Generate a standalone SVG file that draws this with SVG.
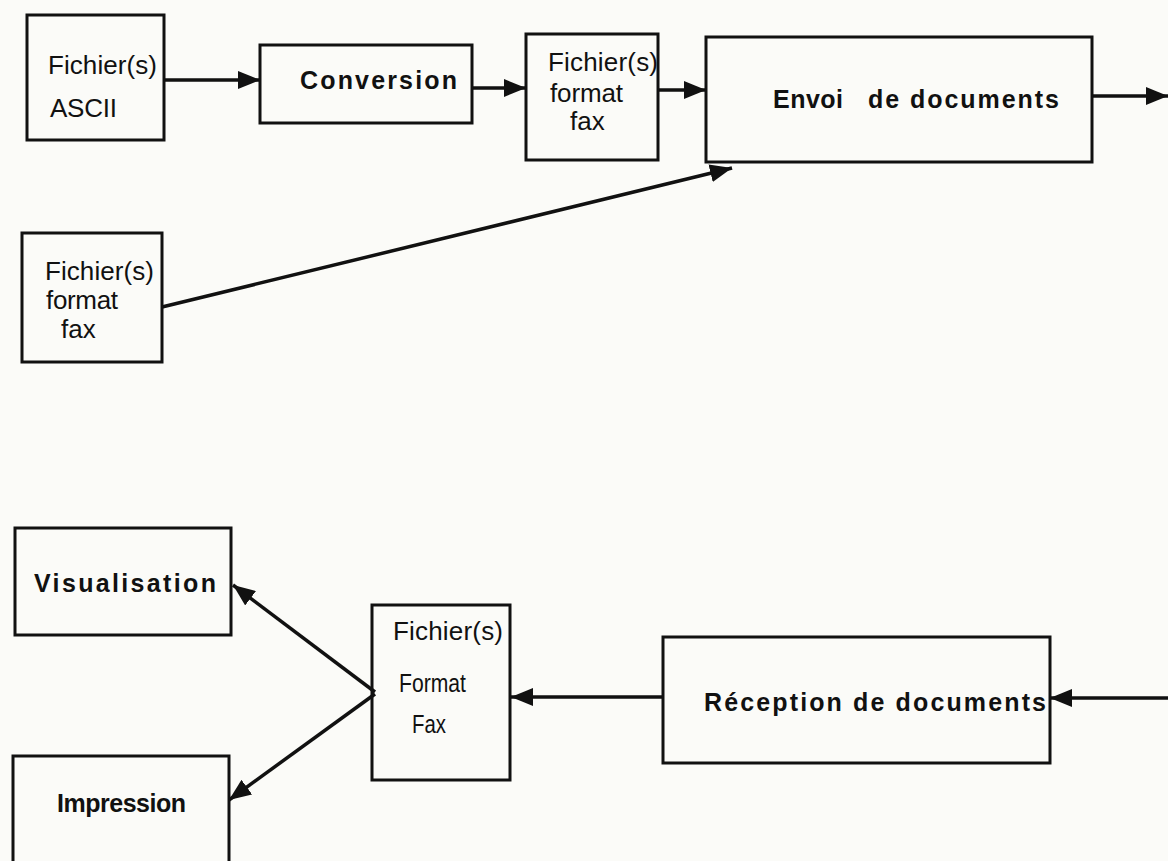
<svg xmlns="http://www.w3.org/2000/svg" width="1168" height="861" viewBox="0 0 1168 861">
<style>
.box{fill:none;stroke:#111;stroke-width:3}
.t{font-family:"Liberation Sans",Arial,sans-serif;fill:#111;font-size:26px}
.b{font-family:"Liberation Sans",Arial,sans-serif;fill:#111;font-weight:bold;font-size:25px}
.c{stroke:#111;stroke-width:3.5;fill:none;marker-end:url(#ah)}
</style>
<defs>
<marker id="ah" markerUnits="userSpaceOnUse" markerWidth="22" markerHeight="18" refX="22" refY="9" orient="auto">
<path d="M0,0 L22,9 L0,18 z" fill="#111"/>
</marker>
</defs>
<rect width="1168" height="861" fill="#fbfbf8"/>
<g id="connectors">
<line class="c" x1="164" y1="80" x2="260" y2="80"/>
<line class="c" x1="472" y1="88" x2="526" y2="88"/>
<line class="c" x1="658" y1="90" x2="706" y2="90"/>
<line class="c" x1="1092" y1="96" x2="1168" y2="96"/>
<line class="c" x1="162" y1="307" x2="732" y2="168"/>
<line class="c" x1="1168" y1="698" x2="1050" y2="698"/>
<line class="c" x1="663" y1="697" x2="511" y2="697"/>
<line class="c" x1="375" y1="692" x2="233" y2="585"/>
<line class="c" x1="375" y1="694" x2="229" y2="800"/>
</g>
<g id="ascii">
<rect class="box" x="27" y="15" width="137" height="125"/>
<text class="t" x="48" y="74" textLength="109">Fichier(s)</text>
<text class="t" x="50" y="117" textLength="67">ASCII</text>
</g>
<g id="conversion">
<rect class="box" x="260" y="45" width="212" height="78"/>
<text class="b" x="300" y="89" textLength="157">Conversion</text>
</g>
<g id="fax1">
<rect class="box" x="526" y="34" width="132" height="126"/>
<text class="t" x="548" y="71" font-size="25" textLength="110">Fichier(s)</text>
<text class="t" x="550" y="102" font-size="25" textLength="73">format</text>
<text class="t" x="570" y="130" font-size="25">fax</text>
</g>
<g id="envoi">
<rect class="box" x="706" y="37" width="386" height="125"/>
<text class="b" x="773" y="108" textLength="70">Envoi</text>
<text class="b" x="868" y="108" textLength="191">de documents</text>
</g>
<g id="fax2">
<rect class="box" x="22" y="233" width="140" height="129"/>
<text class="t" x="45" y="280" font-size="25" textLength="109">Fichier(s)</text>
<text class="t" x="46" y="309" font-size="25" textLength="72">format</text>
<text class="t" x="61" y="338" font-size="25">fax</text>
</g>
<g id="visualisation">
<rect class="box" x="15" y="528" width="216" height="107"/>
<text class="b" x="34" y="592" textLength="182">Visualisation</text>
</g>
<g id="impression">
<rect class="box" x="13" y="756" width="216" height="120"/>
<text class="b" x="57" y="812" font-size="22" textLength="129">Impression</text>
</g>
<g id="fax3">
<rect class="box" x="372" y="605" width="138" height="175"/>
<text class="t" x="393" y="640" textLength="110">Fichier(s)</text>
<text class="t" x="399" y="692" font-size="20" textLength="67" lengthAdjust="spacingAndGlyphs">Format</text>
<text class="t" x="412" y="733" font-size="20" textLength="34" lengthAdjust="spacingAndGlyphs">Fax</text>
</g>
<g id="reception">
<rect class="box" x="663" y="637" width="387" height="126"/>
<text class="b" x="704" y="711" font-size="24" textLength="342">Réception de documents</text>
</g>
</svg>
